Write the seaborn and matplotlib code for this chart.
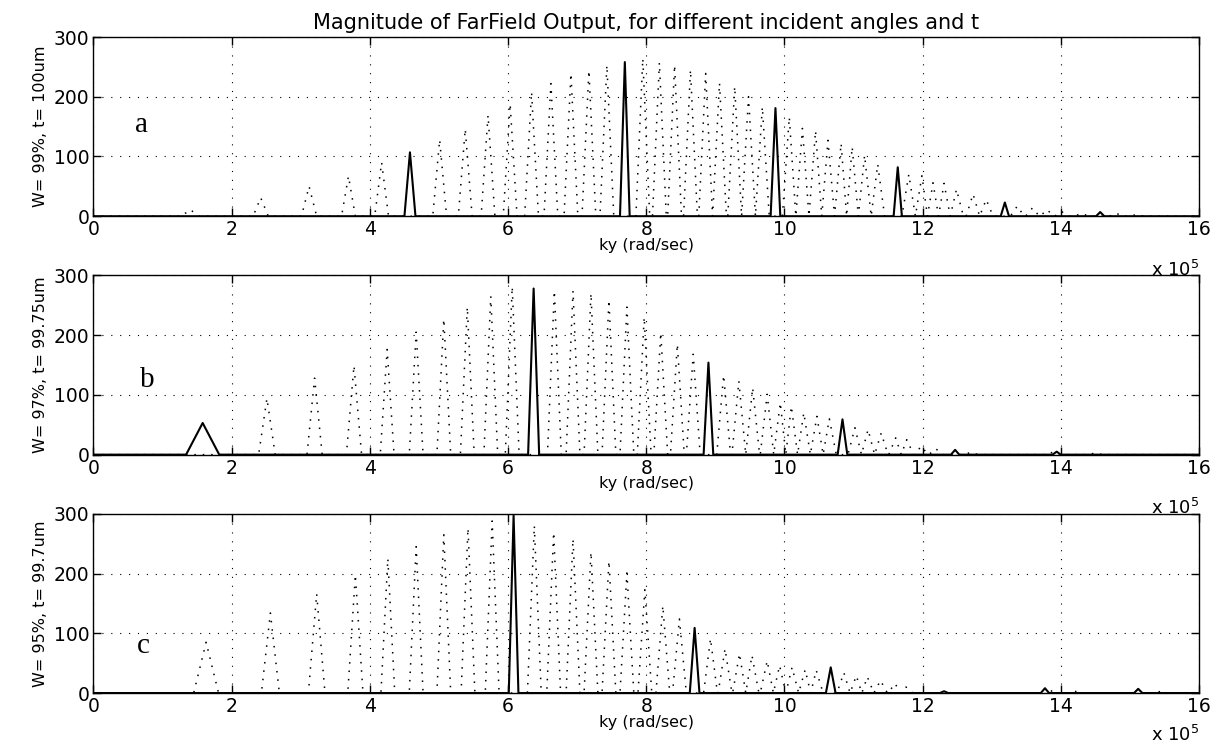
import numpy as np
import pandas as pd
import matplotlib
matplotlib.use("Agg")
import matplotlib.pyplot as plt
import seaborn as sns

# ---------------- data (ky in units of 1e5 rad/sec, magnitude) ----------------
TITLE = "Magnitude of FarField Output, for different incident angles and t"
X_LABEL = "ky (rad/sec)"
Y_LABELS = ["W= 99%, t= 100um", "W= 97%, t= 99.75um", "W= 95%, t= 99.7um"]
PANEL_LETTERS = ["a", "b", "c"]
X_TICKS = [0, 2, 4, 6, 8, 10, 12, 14, 16]
Y_TICKS = [0, 100, 200, 300]
KY_RANGE = [0, 16]

# panel a
a_dot_ky = [1.40, 2.42, 3.12, 3.69, 4.17, 5.01, 5.38, 5.71, 6.03, 6.34, 6.62, 6.91,
            7.17, 7.43, 7.95, 8.19, 8.41, 8.64, 8.86, 9.06, 9.28, 9.48, 9.68, 10.07,
            10.26, 10.45, 10.63, 10.82, 10.98, 11.16, 11.35, 11.80, 11.99, 12.15,
            12.31, 12.49, 12.73, 12.92, 13.37, 13.59, 13.80, 14.01, 14.30, 14.80, 15.10]
a_dot_mag = [11, 31, 50, 67, 90, 128, 146, 169, 188, 208, 222, 239,
             244, 253, 264, 257, 253, 245, 239, 223, 217, 200, 183, 166,
             147, 143, 127, 122, 116, 102, 87, 70, 68, 56,
             55, 45, 37, 28, 17, 14, 11, 8, 5, 5, 3]
a_dot_hw = [0.13, 0.11, 0.11, 0.10, 0.10]
a_sol_ky = [4.58, 7.69, 9.87, 11.64, 13.19, 14.57]
a_sol_mag = [107, 258, 181, 82, 23, 7]
a_sol_hw = [0.08, 0.07, 0.07, 0.06, 0.06, 0.06]

# panel b
b_dot_ky = [2.51, 3.20, 3.77, 4.25, 4.67, 5.07, 5.41, 5.75, 6.06, 6.67, 6.94, 7.20,
            7.46, 7.72, 7.97, 8.21, 8.45, 8.68, 9.12, 9.34, 9.54, 9.75, 9.94, 10.10,
            10.28, 10.47, 10.65, 11.02, 11.21, 11.40, 11.61, 11.77, 11.98, 12.19,
            12.70, 13.90, 14.50]
b_dot_mag = [94, 128, 149, 176, 205, 227, 247, 265, 281, 274, 274, 270,
             259, 247, 230, 204, 185, 168, 133, 123, 112, 101, 87, 81,
             70, 64, 60, 45, 42, 36, 28, 25, 14, 10,
             4, 5, 3]
b_dot_hw = [0.12, 0.11, 0.11, 0.10]
b_sol_ky = [1.58, 6.37, 8.90, 10.84, 12.47, 13.94]
b_sol_mag = [53, 278, 154, 59, 8, 5]
b_sol_hw = [0.24, 0.08, 0.07, 0.07, 0.06, 0.06]

# panel c
c_dot_ky = [1.63, 2.56, 3.23, 3.79, 4.26, 4.67, 5.07, 5.42, 5.77, 6.38, 6.66, 6.94,
            7.20, 7.46, 7.72, 7.98, 8.24, 8.48, 8.93, 9.14, 9.35, 9.53, 9.75, 9.93,
            10.11, 10.30, 10.46, 10.86, 11.04, 11.20, 11.39, 11.60, 11.76, 13.80,
            14.20, 15.40]
c_dot_mag = [85, 134, 166, 198, 225, 245, 265, 276, 288, 280, 269, 258,
             236, 221, 201, 173, 146, 124, 91, 74, 66, 63, 54, 46,
             43, 39, 38, 34, 29, 27, 21, 16, 10, 10,
             3, 3]
c_dot_hw = [0.18, 0.13, 0.12, 0.11]
c_sol_ky = [6.08, 8.70, 10.67, 12.31, 13.77, 15.12]
c_sol_mag = [297, 109, 43, 3, 8, 7]
c_sol_hw = [0.07, 0.07, 0.07, 0.06, 0.06, 0.06]

LETTER_POS = [(0.70, 152), (0.78, 125), (0.72, 78)]

panels = [
    (a_dot_ky, a_dot_mag, a_dot_hw, a_sol_ky, a_sol_mag, a_sol_hw),
    (b_dot_ky, b_dot_mag, b_dot_hw, b_sol_ky, b_sol_mag, b_sol_hw),
    (c_dot_ky, c_dot_mag, c_dot_hw, c_sol_ky, c_sol_mag, c_sol_hw),
]

DEFAULT_HW = 0.10


def peak_frame(ky, mag, hw):
    """Baseline + one triangular peak per (ky, mag) pair, peaks kept non-overlapping."""
    xs, ys = [KY_RANGE[0]], [0.0]
    prev_right = KY_RANGE[0]
    for i, (c, h) in enumerate(zip(ky, mag)):
        w = hw[i] if i < len(hw) else DEFAULT_HW
        nxt = ky[i + 1] if i + 1 < len(ky) else KY_RANGE[1]
        left = max(c - w, prev_right)
        right = min(c + w, (c + nxt) / 2.0)
        xs += [left, c, right]
        ys += [0.0, h, 0.0]
        prev_right = right
    xs.append(KY_RANGE[1])
    ys.append(0.0)
    return pd.DataFrame({"ky": xs, "mag": ys})


sns.set_theme(style="white")
plt.rcParams["font.family"] = ["DejaVu Sans"]
plt.rcParams["axes.edgecolor"] = "black"
plt.rcParams["axes.linewidth"] = 1.0
plt.rcParams["text.color"] = "black"
plt.rcParams["axes.labelcolor"] = "black"
plt.rcParams["axes.titlecolor"] = "black"
plt.rcParams["xtick.color"] = "black"
plt.rcParams["ytick.color"] = "black"

fig, axes = plt.subplots(3, 1, figsize=(12.19, 7.46), dpi=100)
plt.subplots_adjust(left=0.0767, right=0.9836, top=0.9504, bottom=0.071, hspace=0.33)

for i, ax in enumerate(axes):
    dk, dm, dhw, sk, sm, shw = panels[i]
    dot_df = peak_frame(dk, dm, dhw)
    sol_df = peak_frame(sk, sm, shw)
    sns.lineplot(data=dot_df, x="ky", y="mag", ax=ax, sort=False, estimator=None,
                 color="black", linewidth=1.1, linestyle=(0, (1, 4.5)))
    sns.lineplot(data=sol_df, x="ky", y="mag", ax=ax, sort=False, estimator=None,
                 color="black", linewidth=1.5)
    ax.set_xlim(KY_RANGE)
    ax.set_ylim(Y_TICKS[0], Y_TICKS[-1])
    ax.set_xticks(X_TICKS)
    ax.set_yticks(Y_TICKS)
    ax.set_xticklabels([str(t) for t in X_TICKS], fontsize=13.5, color="black")
    ax.set_yticklabels([str(t) for t in Y_TICKS], fontsize=13.5, color="black")
    ax.grid(True, color="black", linestyle=(0, (1, 7)), linewidth=0.8)
    ax.tick_params(direction="in", length=6, width=1, top=True, right=True,
                   bottom=True, left=True, pad=3, colors="black")
    for s in ax.spines.values():
        s.set_visible(True)
        s.set_color("black")
    ax.set_xlabel(X_LABEL, fontsize=11.5, labelpad=-1, color="black")
    ax.set_ylabel(Y_LABELS[i], fontsize=11.5, labelpad=4, color="black")
    lx, ly = LETTER_POS[i]
    ax.text(lx, ly, PANEL_LETTERS[i], fontsize=21, family="Liberation Serif",
            ha="center", va="center", color="black")
    if i < 2:
        ax.text(1.0, -0.30, r"x 10$^{5}$", transform=ax.transAxes, ha="right",
                va="center", fontsize=13, color="black")
    else:
        fig.text(0.9836, 0.002, r"x 10$^{5}$", ha="right", va="bottom",
                 fontsize=13, color="black")

axes[0].set_title(TITLE, fontsize=15, pad=6, color="black")

fig.savefig("out.png", dpi=100, facecolor="white")
